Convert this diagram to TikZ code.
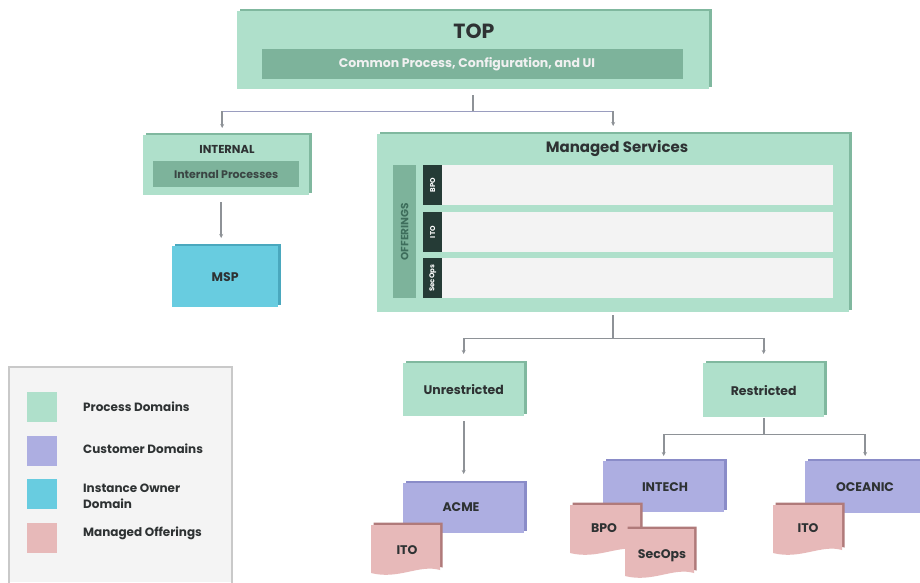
\documentclass[tikz,border=0pt]{standalone}
\usepackage{fontspec}
\setmainfont{Poppins}
\usetikzlibrary{shadows,arrows.meta,calc}
\definecolor{procg}{HTML}{AFE0CB}
\definecolor{procd}{HTML}{80B89F}
\definecolor{barg}{HTML}{7DB39B}
\definecolor{custp}{HTML}{ADAEE1}
\definecolor{custd}{HTML}{8A8CC8}
\definecolor{ownc}{HTML}{68CCE0}
\definecolor{ownd}{HTML}{4AA8BE}
\definecolor{offp}{HTML}{E7B9B9}
\definecolor{offd}{HTML}{B07A7A}
\definecolor{tabd}{HTML}{253B36}
\definecolor{rowg}{HTML}{F3F3F3}
\definecolor{legf}{HTML}{F4F4F4}
\definecolor{legb}{HTML}{C9C9C9}
\definecolor{lineg}{HTML}{8E9297}
\definecolor{linep}{HTML}{9A9DBF}
\definecolor{txt}{HTML}{2E3233}
\definecolor{offtxt}{HTML}{3E6E5C}
\tikzset{
  boxbase/.style={draw=none, anchor=north west, inner sep=0pt},
  proc/.style={boxbase, fill=procg, general shadow={fill=procd, shadow xshift=2.5pt, shadow yshift=2.5pt}},
  cust/.style={boxbase, fill=custp, general shadow={fill=custd, shadow xshift=2.5pt, shadow yshift=2.5pt}},
  own/.style={boxbase, fill=ownc, general shadow={fill=ownd, shadow xshift=2.5pt, shadow yshift=2.5pt}},
  flat/.style={boxbase},
  lab/.style={font=\bfseries\fontsize{12.5}{15}\selectfont, text=txt, inner sep=0pt},
  leg/.style={font=\bfseries\fontsize{12}{16}\selectfont, text=txt, inner sep=0pt, anchor=west, align=left},
  linkg/.style={draw=lineg, line width=1.7pt},
  linkp/.style={draw=linep, line width=1.7pt},
  arr/.style={-{Stealth[length=4pt,width=4pt]}}
}
\newcommand\docbox[8]{%
  \fill[offd, shift={(2.5,-2.5)}] (#2,#3) -- (#4,#3) -- (#4,#5)
    .. controls ({#4-0.3*(#4-#2)},{#5-6}) and ({#2+0.4*(#4-#2)},{#5+10}) .. (#2,{#5+3}) -- cycle;
  \fill[offp] (#2,#3) -- (#4,#3) -- (#4,#5)
    .. controls ({#4-0.3*(#4-#2)},{#5-6}) and ({#2+0.4*(#4-#2)},{#5+10}) .. (#2,{#5+3}) -- cycle;
  \node[lab] (#1) at (#7,#8) {#6};
}
\begin{document}
\begin{tikzpicture}[x=1pt,y=-1pt]
\useasboundingbox (0,0) rectangle (920,582);
\fill[white] (0,0) rectangle (920,582);

% TOP
\node[proc, minimum width=472pt, minimum height=78pt] (top) at (237,11) {};
\node[flat, fill=barg, minimum width=421pt, minimum height=30pt] (topbar) at (262,49) {};
\node[lab, font=\bfseries\fontsize{20.5}{24}\selectfont] (toptxt) at (474,31) {TOP};
\node[lab, text=white!94!black, font=\bfseries\fontsize{12.5}{15}\selectfont] (topbartxt) at (467,64) {Common Process, Configuration, and UI};

% INTERNAL
\node[proc, minimum width=166pt, minimum height=60pt] (internal) at (143,135) {};
\node[flat, fill=barg, minimum width=146pt, minimum height=26pt] (intbar) at (153,161) {};
\node[lab, font=\bfseries\fontsize{11.5}{13}\selectfont] (inttxt) at (227,149) {INTERNAL};
\node[lab, text=txt!85!barg, font=\bfseries\fontsize{11}{13}\selectfont] (intbartxt) at (intbar.center) {Internal Processes};

% MSP
\node[own, minimum width=106pt, minimum height=61pt] (msp) at (172,246) {};
\node[lab] (msptxt) at (msp.center) {MSP};

% Managed Services
\node[proc, minimum width=472pt, minimum height=178pt] (ms) at (377,134) {};
\node[lab, font=\bfseries\fontsize{15}{18}\selectfont] (mstxt) at (617,149) {Managed Services};
\node[flat, fill=barg, minimum width=23pt, minimum height=133pt] (offbar) at (393,165) {};
\node[lab, text=offtxt, rotate=90, font=\bfseries\fontsize{10.5}{12}\selectfont] (offtxt) at (offbar.center) {OFFERINGS};
\node[flat, fill=rowg, minimum width=391pt, minimum height=40pt] (row1) at (442,165) {};
\node[flat, fill=rowg, minimum width=391pt, minimum height=40pt] (row2) at (442,212) {};
\node[flat, fill=rowg, minimum width=391pt, minimum height=40pt] (row3) at (442,258) {};
\node[flat, fill=tabd, minimum width=19pt, minimum height=40pt] (tab1) at (423,165) {};
\node[flat, fill=tabd, minimum width=19pt, minimum height=40pt] (tab2) at (423,212) {};
\node[flat, fill=tabd, minimum width=19pt, minimum height=40pt] (tab3) at (423,258) {};
\node[lab, text=white, rotate=90, font=\bfseries\fontsize{7}{8}\selectfont] (tab1t) at (tab1.center) {BPO};
\node[lab, text=white, rotate=90, font=\bfseries\fontsize{7}{8}\selectfont] (tab2t) at (tab2.center) {ITO};
\node[lab, text=white, rotate=90, font=\bfseries\fontsize{7}{8}\selectfont] (tab3t) at (tab3.center) {SecOps};

% Unrestricted / Restricted
\node[proc, minimum width=121pt, minimum height=53pt] (unres) at (403,363) {};
\node[lab] (unrestxt) at (unres.center) {Unrestricted};
\node[proc, minimum width=121pt, minimum height=54pt] (res) at (703,363) {};
\node[lab] (restxt) at (res.center) {Restricted};

% Customers
\node[cust, minimum width=121pt, minimum height=50pt] (acme) at (403,483) {};
\node[lab] (acmetxt) at (461,507) {ACME};
\node[cust, minimum width=121pt, minimum height=51pt] (intech) at (603,461) {};
\node[lab] (intechtxt) at (665,487) {INTECH};
\node[cust, minimum width=120pt, minimum height=52pt] (oceanic) at (805,461) {};
\node[lab] (oceanictxt) at (865,487) {OCEANIC};

% Offerings documents
\docbox{ito1}{371}{525}{440}{570}{ITO}{407}{550}
\docbox{bpo}{570}{505}{640}{550}{BPO}{604}{528}
\docbox{secops}{625}{529}{694}{573}{SecOps}{662}{556}
\docbox{ito2}{773}{505}{842}{550}{ITO}{808}{528}

% Connectors
\coordinate (j1) at ($(top.south)+(0,22)$);
\draw[linkg] ([yshift=-6pt]top.south) -- (j1);
\draw[linkp] ([xshift=-4pt]internal.north |- j1) -- (ms.north |- j1);
\draw[linkg, arr] ([xshift=-4pt]internal.north |- j1) -- ([xshift=-4pt, yshift=7pt]internal.north);
\draw[linkg, arr] (ms.north |- j1) -- ([yshift=8pt]ms.north);
\draw[linkg, arr] ([xshift=-5pt, yshift=-7pt]internal.south) -- ([xshift=-4pt, yshift=8pt]msp.north);

\coordinate (j2) at ($(ms.south)+(0,26)$);
\draw[linkg] ([yshift=-3pt]ms.south) -- (j2);
\draw[linkg] (unres.north |- j2) -- (res.north |- j2);
\draw[linkg, arr] (unres.north |- j2) -- ([yshift=9pt]unres.north);
\draw[linkg, arr] (res.north |- j2) -- ([yshift=9pt]res.north);
\draw[linkg, arr] ([yshift=-5pt]unres.south) -- ([yshift=9pt]acme.north);

\coordinate (j3) at ($(res.south)+(0,17)$);
\draw[linkg] ([yshift=-1pt]res.south) -- (j3);
\draw[linkg] (intech.north |- j3) -- (oceanic.north |- j3);
\draw[linkg, arr] (intech.north |- j3) -- ([yshift=5pt]intech.north);
\draw[linkg, arr] (oceanic.north |- j3) -- ([yshift=5pt]oceanic.north);

% Legend
\fill[legf] (9,367) rectangle (232,582);
\draw[legb, line width=1.5pt] (9,583) -- (9,367) -- (232,367) -- (232,583);
\node[flat, fill=procg, minimum width=30pt, minimum height=30pt] (sw1) at (27,392) {};
\node[flat, fill=custp, minimum width=30pt, minimum height=30pt] (sw2) at (27,436) {};
\node[flat, fill=ownc, minimum width=30pt, minimum height=30pt] (sw3) at (27,479) {};
\node[flat, fill=offp, minimum width=30pt, minimum height=30pt] (sw4) at (27,523) {};
\node[leg] (lg1) at (83,407) {Process Domains};
\node[leg] (lg2) at (83,449) {Customer Domains};
\node[leg] (lg3) at (83,496) {Instance Owner\\Domain};
\node[leg] (lg4) at (83,533) {Managed Offerings};
\end{tikzpicture}
\end{document}
